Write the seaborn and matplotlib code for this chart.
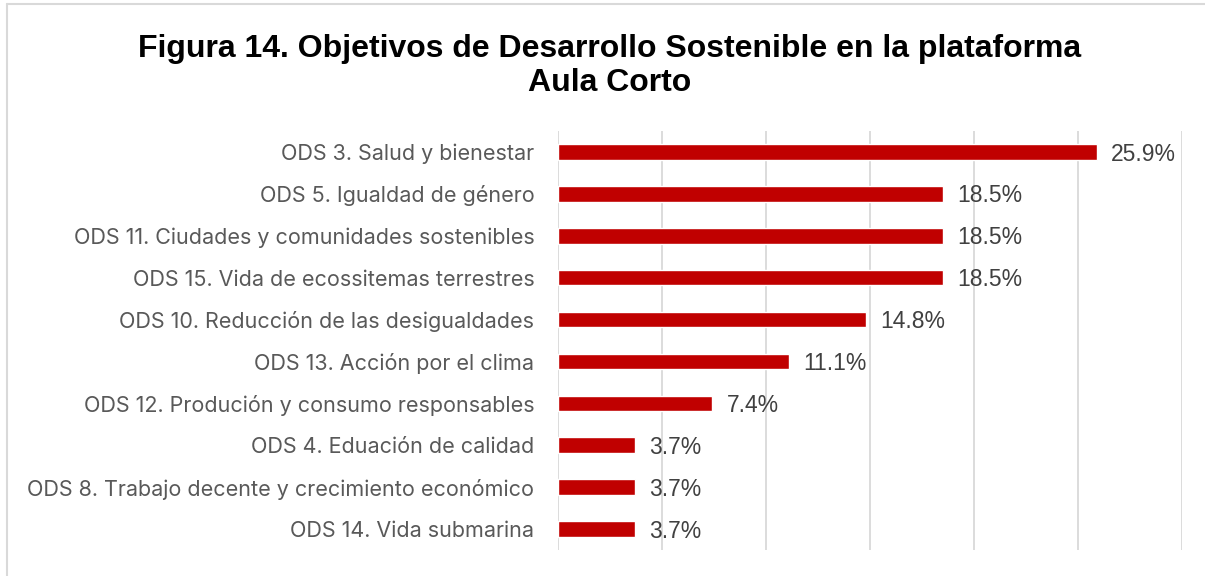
import matplotlib
matplotlib.use("Agg")
import matplotlib.pyplot as plt
import seaborn as sns
import pandas as pd
from matplotlib.lines import Line2D

categories = [
    "ODS 3. Salud y bienestar",
    "ODS 5. Igualdad de género",
    "ODS 11. Ciudades y comunidades sostenibles",
    "ODS 15. Vida de ecossitemas terrestres",
    "ODS 10. Reducción de las desigualdades",
    "ODS 13. Acción por el clima",
    "ODS 12. Produción y consumo responsables",
    "ODS 4. Eduación de calidad",
    "ODS 8. Trabajo decente y crecimiento económico",
    "ODS 14. Vida submarina",
]
values = [25.9, 18.5, 18.5, 18.5, 14.8, 11.1, 7.4, 3.7, 3.7, 3.7]
value_labels = ["25.9%", "18.5%", "18.5%", "18.5%", "14.8%", "11.1%", "7.4%", "3.7%", "3.7%", "3.7%"]
title = "Figura 14. Objetivos de Desarrollo Sostenible en la plataforma\nAula Corto"

df = pd.DataFrame({"cat": categories, "val": values})

sns.set_theme(style="white")
plt.rcParams["font.family"] = ["Inter", "DejaVu Sans"]

fig = plt.figure(figsize=(12.05, 5.76), dpi=100)
ax = fig.add_axes([558 / 1205, 1 - 550 / 576, (1182 - 558) / 1205, 419 / 576])

sns.barplot(data=df, y="cat", x="val", orient="h", color="#C00000",
            saturation=1, width=0.37, ax=ax, zorder=3)

ax.set_xlim(0, 30)
ax.set_xticks([0, 5, 10, 15, 20, 25, 30])
ax.xaxis.grid(True, color="#D9D9D9", linewidth=1.3, zorder=0)
ax.set_axisbelow(True)
ax.tick_params(axis="x", length=0, labelbottom=False)
ax.tick_params(axis="y", length=0, pad=17, labelsize=15.5, labelcolor="#595959")
for s in ax.spines.values():
    s.set_visible(False)
ax.set_xlabel("")
ax.set_ylabel("")

for i, (v, lab) in enumerate(zip(values, value_labels)):
    ax.annotate(lab, xy=(v, i), xytext=(10.5, -1.5), textcoords="offset points",
                ha="left", va="center", fontsize=16.5, color="#404040",
                family=["Liberation Sans", "DejaVu Sans"])

fig.text(0.506, 0.885, title, ha="center", va="center", fontsize=23,
         fontweight="bold", family=["Liberation Sans", "DejaVu Sans"],
         color="black", linespacing=1.17)

fig.add_artist(Line2D([7 / 1205, 7 / 1205], [0, 1 - 4 / 576], color="#D9D9D9",
                      linewidth=1.5, transform=fig.transFigure))
fig.add_artist(Line2D([7 / 1205, 1], [1 - 4 / 576, 1 - 4 / 576], color="#D9D9D9",
                      linewidth=1.5, transform=fig.transFigure))

fig.savefig("out.png", dpi=100, facecolor="white")
